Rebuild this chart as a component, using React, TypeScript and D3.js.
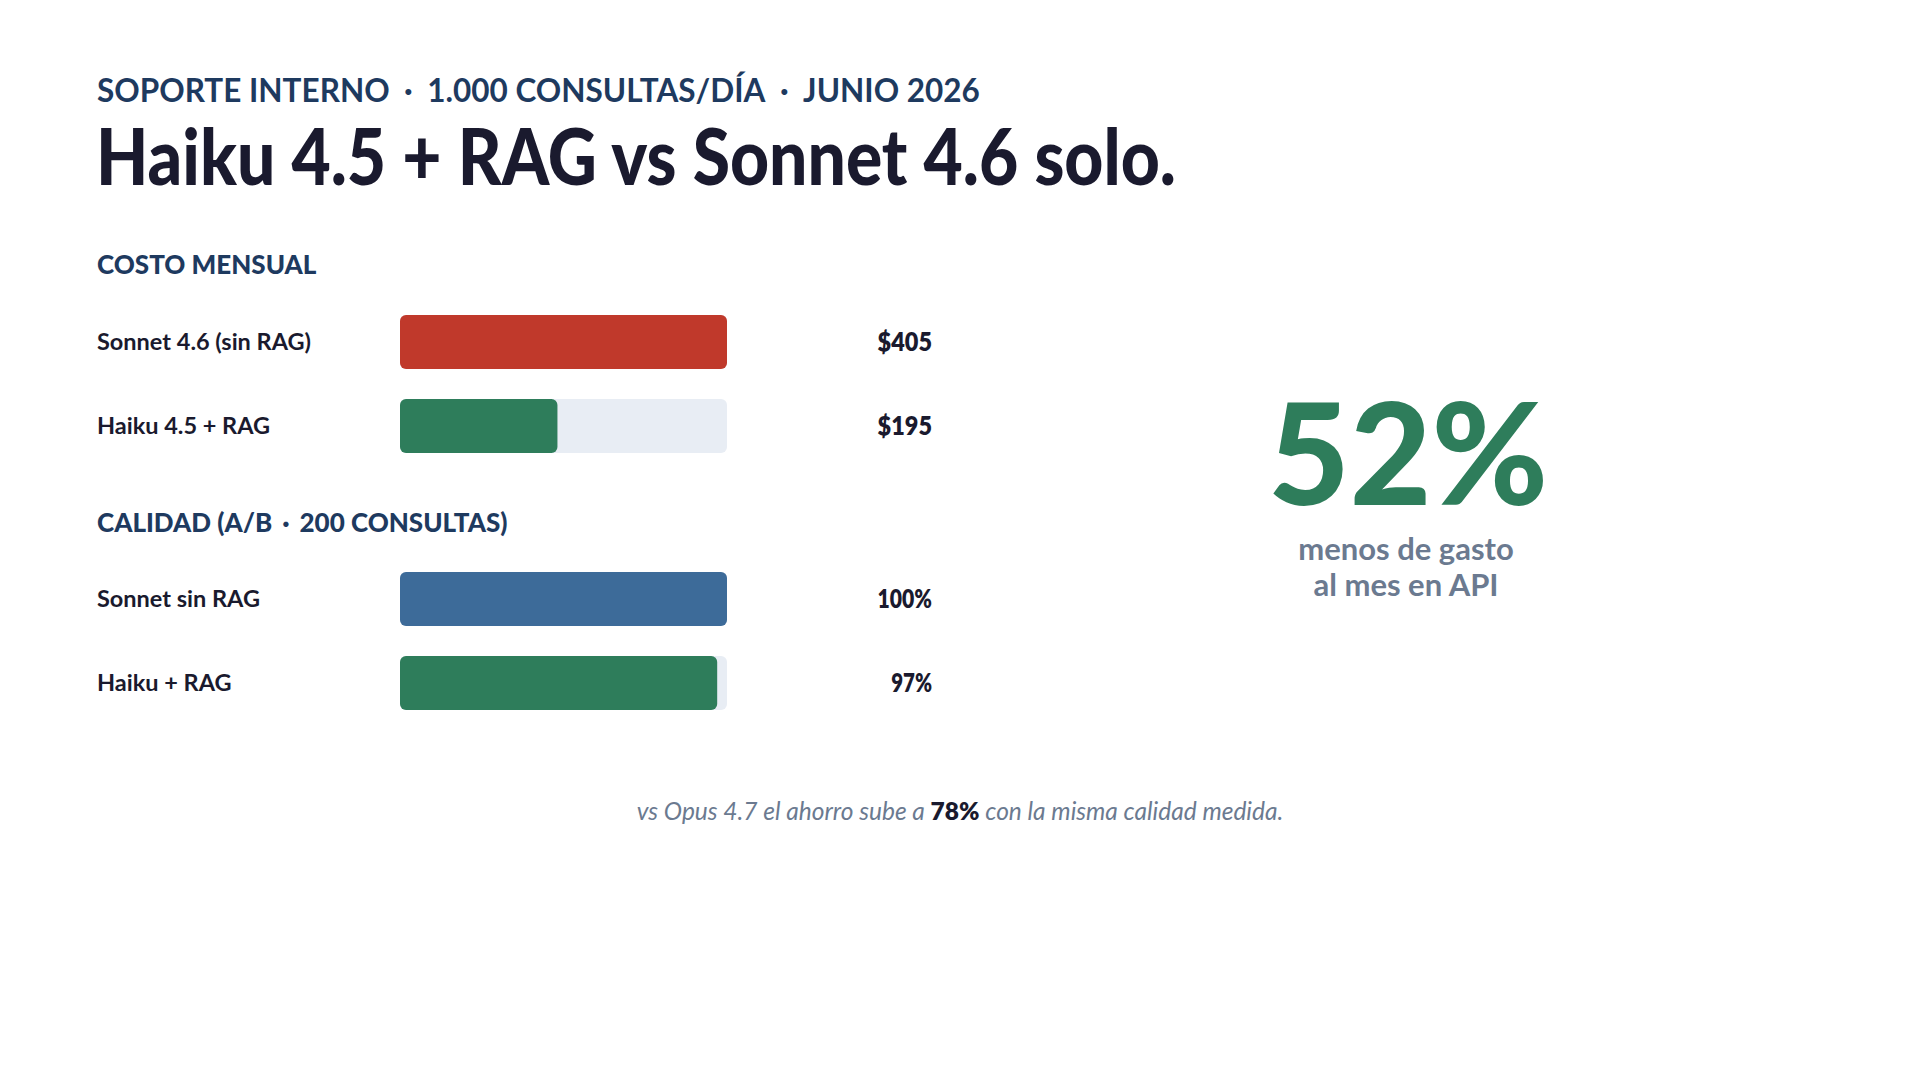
import * as d3 from "d3";
import React from "react";

// data
const costNames = ["Sonnet 4.6 (sin RAG)", "Haiku 4.5 + RAG"];
const costValues = [405, 195];
const costColors = ["#c0392b", "#2e7d5b"];

const qualityNames = ["Sonnet sin RAG", "Haiku + RAG"];
const qualityValues = [100, 97];
const qualityColors = ["#3d6b99", "#2e7d5b"];

const kickerParts = ["SOPORTE INTERNO", "1.000 CONSULTAS/DÍA", "JUNIO 2026"];
const qualityHeadParts = ["CALIDAD (A/B", "200 CONSULTAS)"];

const savingPct = 52;
const opusSavingPct = 78;

const FONT = "Lato, 'Noto Sans', sans-serif";
const NAVY = "#1e3a5f";
const INK = "#1a1a2e";
const MUTED = "#6b7a90";
const TRACK = "#e8edf4";

const barX0 = 400;
const barW = 327;
const valueX = 932;

// parts joined by a middle dot with wide gaps
const Dotted = ({ parts, gap }) =>
  parts.flatMap((p, i) =>
    i === 0
      ? [<tspan key={i}>{p}</tspan>]
      : [
          <tspan key={"d" + i} dx={gap}>·</tspan>,
          <tspan key={i} dx={gap}>{p}</tspan>,
        ]
  );

const BarSection = ({ names, values, colors, top, scale, fmt }) => {
  const y = d3
    .scaleBand()
    .domain(names)
    .range([top, top + 138])
    .paddingInner(30 / 84)
    .paddingOuter(0);
  return (
    <g>
      {names.map((n, i) => {
        const cy = y(n) + y.bandwidth() / 2;
        return (
          <g key={n}>
            <text
              x={97}
              y={cy}
              dy="0.35em"
              fontFamily={FONT}
              fontWeight={700}
              fontSize={23.5}
              fill={INK}
            >
              {n}
            </text>
            <rect x={barX0} y={y(n)} width={barW} height={y.bandwidth()} rx={6} fill={TRACK} />
            <rect
              x={barX0}
              y={y(n)}
              width={scale(values[i])}
              height={y.bandwidth()}
              rx={6}
              fill={colors[i]}
            />
            <text
              x={valueX}
              y={cy}
              dy="0.36em"
              textAnchor="end"
              fontFamily={FONT}
              fontWeight={800}
              fontSize={26}
              fill={INK}
              textLength={fmt(values[i]).length * 13.6}
              lengthAdjust="spacingAndGlyphs"
            >
              {fmt(values[i])}
            </text>
          </g>
        );
      })}
    </g>
  );
};

export default function App() {
  const costX = d3.scaleLinear().domain([0, d3.max(costValues)]).range([0, barW]);
  const qualityX = d3.scaleLinear().domain([0, 100]).range([0, barW]);

  return (
    <div style={{ position: "absolute", left: 0, top: 0 }}>
      <svg width={1920} height={1080} style={{ display: "block", background: "#fff" }}>
        <text x={97} y={102} fontFamily={FONT} fontWeight={700} fontSize={31.5} fill={NAVY}>
          <Dotted parts={kickerParts} gap={14.5} />
        </text>
        <text
          x={96}
          y={185}
          fontFamily={FONT}
          fontWeight={900}
          fontSize={78}
          fill={INK}
          textLength={1080}
          lengthAdjust="spacingAndGlyphs"
        >
          Haiku 4.5 + RAG vs Sonnet 4.6 solo.
        </text>

        <text x={97} y={274} fontFamily={FONT} fontWeight={900} fontSize={26} fill={NAVY}>
          COSTO MENSUAL
        </text>
        <BarSection
          names={costNames}
          values={costValues}
          colors={costColors}
          top={315}
          scale={costX}
          fmt={(v) => `$${v}`}
        />

        <text x={97} y={532} fontFamily={FONT} fontWeight={900} fontSize={26} fill={NAVY}>
          <Dotted parts={qualityHeadParts} gap={10} />
        </text>
        <BarSection
          names={qualityNames}
          values={qualityValues}
          colors={qualityColors}
          top={572}
          scale={qualityX}
          fmt={(v) => `${v}%`}
        />

        <text
          x={1408}
          y={505}
          textAnchor="middle"
          fontFamily={FONT}
          fontWeight={900}
          fontSize={141}
          fill="#2e7d5b"
        >
          {savingPct}%
        </text>
        <text x={1406} y={560} textAnchor="middle" fontFamily={FONT} fontWeight={700} fontSize={31} fill={MUTED}>
          menos de gasto
        </text>
        <text x={1406} y={596} textAnchor="middle" fontFamily={FONT} fontWeight={700} fontSize={31} fill={MUTED}>
          al mes en API
        </text>

        <text x={960} y={820} textAnchor="middle" fontFamily={FONT} fontSize={24.5} fill={MUTED}>
          <tspan fontStyle="italic">vs Opus 4.7 el ahorro sube a </tspan>
          <tspan fontWeight={800} fill={INK}>{opusSavingPct}%</tspan>
          <tspan fontStyle="italic"> con la misma calidad medida.</tspan>
        </text>
      </svg>
    </div>
  );
}
